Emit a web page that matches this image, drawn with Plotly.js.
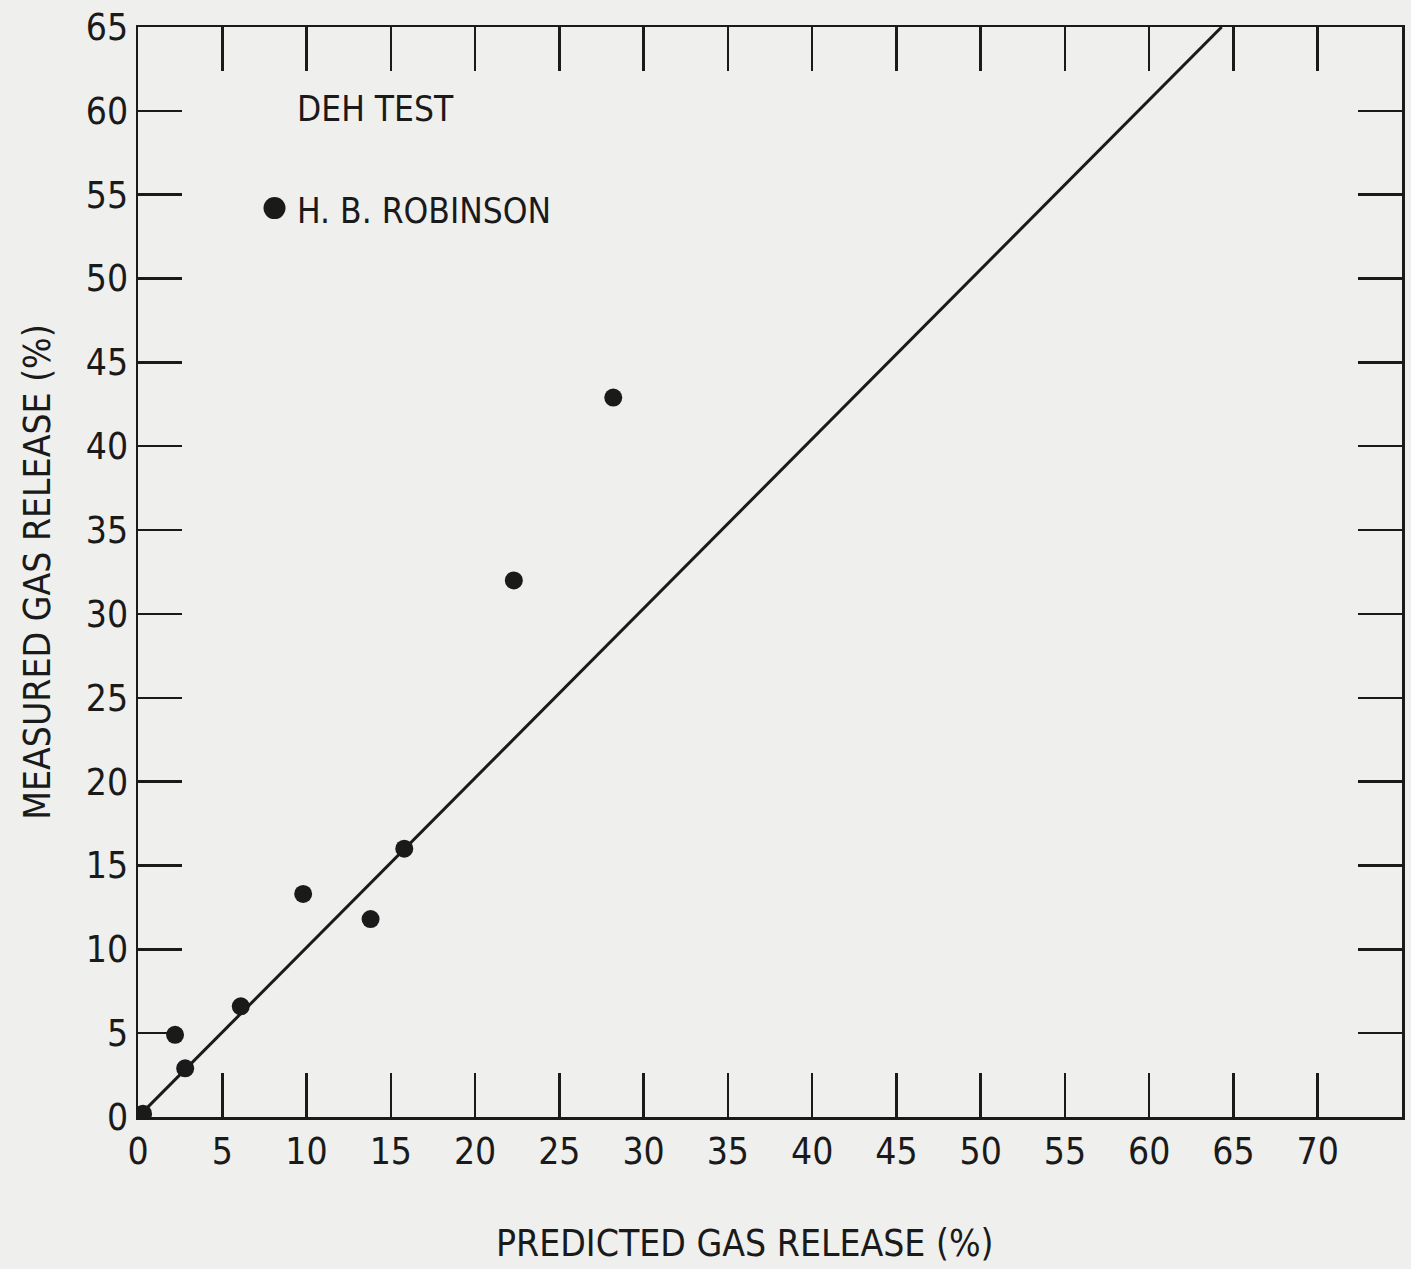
<!DOCTYPE html>
<html>
<head>
<meta charset="utf-8">
<script src="https://cdn.plot.ly/plotly-3.0.1.min.js"></script>
<style>
  html, body { margin: 0; padding: 0; background: #efefed; }
  #chart { width: 1411px; height: 1269px; }
</style>
</head>
<body>
<div id="chart"></div>
<script>
// Data
const predicted = [0.3, 2.2, 2.8, 6.1, 9.8, 13.8, 15.8, 22.3, 28.2];
const measured  = [0.2, 4.9, 2.9, 6.6, 13.3, 11.8, 16.0, 32.0, 42.9];
// Line of agreement (measured = predicted)
const lineX = [0, 64.3];
const lineY = [0, 65];
const xTicks = [0, 5, 10, 15, 20, 25, 30, 35, 40, 45, 50, 55, 60, 65, 70];
const yTicks = [0, 5, 10, 15, 20, 25, 30, 35, 40, 45, 50, 55, 60, 65];
const titleText = "DEH TEST";
const seriesName = "H. B. ROBINSON";
const xTitle = "PREDICTED GAS RELEASE (%)";
const yTitle = "MEASURED GAS RELEASE (%)";

const FONT = "Liberation Sans Narrow, DejaVu Sans Condensed, Arial Narrow, sans-serif";
const INK = "#1a1a1a";

const traces = [
  {
    x: lineX, y: lineY, type: "scatter", mode: "lines",
    line: { color: INK, width: 3 }, hoverinfo: "skip", showlegend: false
  },
  {
    x: predicted, y: measured, type: "scatter", mode: "markers",
    name: seriesName,
    marker: { color: INK, size: 18, line: { width: 0 } },
    showlegend: false
  }
];

const axisCommon = {
  showline: true, linecolor: INK, linewidth: 2.5, mirror: "allticks",
  ticks: "inside", ticklen: 44, tickwidth: 2.5, tickcolor: INK,
  showgrid: false, zeroline: false,
  tickfont: { family: FONT, size: 37, color: INK },
  fixedrange: true
};

const layout = {
  width: 1411, height: 1269,
  paper_bgcolor: "#efefed", plot_bgcolor: "#efefed",
  margin: { l: 138, r: 9, t: 27, b: 152 },
  font: { family: FONT, color: INK },
  xaxis: Object.assign({}, axisCommon, {
    range: [0, 75], tickmode: "array", tickvals: xTicks,
    ticktext: xTicks.map(String),
    ticklabelstandoff: 0
  }),
  yaxis: Object.assign({}, axisCommon, {
    range: [0, 65], tickmode: "array", tickvals: yTicks,
    ticktext: yTicks.map(String),
    ticklabelstandoff: 0,
    title: { text: yTitle, font: { family: FONT, size: 37, color: INK }, standoff: 24 }
  }),
  annotations: [
    {
      xref: "paper", yref: "paper", x: (745 - 138) / (1411 - 138 - 9), y: -0.116,
      xanchor: "center", yanchor: "middle",
      text: xTitle, showarrow: false,
      font: { family: FONT, size: 37, color: INK }
    },
    {
      xref: "x", yref: "y", x: 9.3, y: 60.1, xanchor: "left", yanchor: "middle",
      text: titleText, showarrow: false,
      font: { family: FONT, size: 35, color: INK }
    },
    {
      xref: "x", yref: "y", x: 9.3, y: 54.0, xanchor: "left", yanchor: "middle",
      text: seriesName, showarrow: false,
      font: { family: FONT, size: 35, color: INK }
    }
  ],
  shapes: [
    {
      type: "circle", xref: "x", yref: "y", xsizemode: "pixel", ysizemode: "pixel",
      xanchor: 8.1, yanchor: 54.2, x0: -11, x1: 11, y0: -11, y1: 11,
      fillcolor: INK, line: { width: 0 }
    }
  ],
  showlegend: false
};

Plotly.newPlot("chart", traces, layout, { staticPlot: true, displayModeBar: false });
</script>
</body>
</html>
